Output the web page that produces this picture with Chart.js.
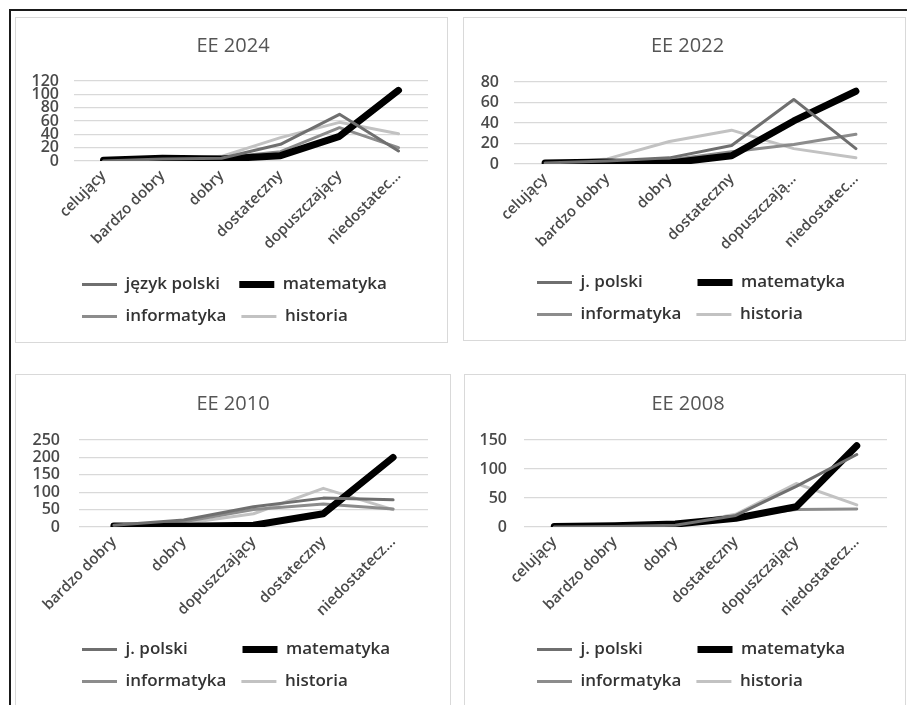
<!DOCTYPE html>
<html lang="pl">
<head>
<meta charset="utf-8">
<title>EE – rozkład ocen</title>
<script src="https://cdn.jsdelivr.net/npm/chart.js@4.4.1/dist/chart.umd.min.js"></script>
<style>
    body { margin: 0; width: 907px; height: 705px; background: #fff; position: relative; overflow: hidden; }
    .frame-top { position: absolute; left: 9px; top: 9px; width: 898px; height: 2px; background: #1a1a1a; }
    .frame-left { position: absolute; left: 9px; top: 9px; width: 2px; height: 696px; background: #1a1a1a; }
    .panel { position: absolute; border: 1px solid #d9d9d9; background: #fff; }
    .panel canvas { display: block; position: absolute; left: 0; top: 0; }
</style>
</head>
<body>
<div class="frame-top"></div>
<div class="frame-left"></div>
<div class="panel" id="p2024" style="left:15px;top:17px;width:431px;height:324px"><canvas id="c2024"></canvas></div>
<div class="panel" id="p2022" style="left:463px;top:17px;width:441px;height:322px"><canvas id="c2022"></canvas></div>
<div class="panel" id="p2010" style="left:15px;top:374px;width:434px;height:340px"><canvas id="c2010"></canvas></div>
<div class="panel" id="p2008" style="left:464px;top:374px;width:440px;height:340px"><canvas id="c2008"></canvas></div>

<script>
// Kategorie ocen
const categories2024 = ['celujący', 'bardzo dobry', 'dobry', 'dostateczny', 'dopuszczający', 'niedostatec...'];
const categories2022 = ['celujący', 'bardzo dobry', 'dobry', 'dostateczny', 'dopuszczają...', 'niedostatec...'];
const categories2010 = ['bardzo dobry', 'dobry', 'dopuszczający', 'dostateczny', 'niedostatecz...'];
const categories2008 = ['celujący', 'bardzo dobry', 'dobry', 'dostateczny', 'dopuszczający', 'niedostatecz...'];

// EE 2024
const jp2024   = [0, 3, 4, 25, 70, 15];
const mat2024  = [1, 4, 3, 8, 37, 106];
const inf2024  = [0, 3, 5, 14, 50, 20];
const hist2024 = [0, 2, 7, 35, 58, 41];

// EE 2022
const jp2022   = [1, 3, 6, 18, 63, 15];
const mat2022  = [1, 2, 1, 8, 42, 71];
const inf2022  = [1, 3, 4, 12, 19, 29];
const hist2022 = [0, 5, 22, 33, 15, 6];

// EE 2010
const jp2010   = [5, 20, 58, 83, 78];
const mat2010  = [3, 2, 5, 38, 200];
const inf2010  = [4, 15, 50, 66, 52];
const hist2010 = [2, 10, 38, 111, 50];

// EE 2008
const jp2008   = [0, 1, 3, 20, 70, 125];
const mat2008  = [1, 2, 5, 15, 35, 140];
const inf2008  = [0, 1, 4, 18, 30, 31];
const hist2008 = [0, 1, 2, 22, 75, 38];

// Podziałki osi Y
const yTicks2024 = [0, 20, 40, 60, 80, 100, 120];
const yTicks2022 = [0, 20, 40, 60, 80];
const yTicks2010 = [0, 50, 100, 150, 200, 250];
const yTicks2008 = [0, 50, 100, 150];

Chart.defaults.font.family = "'Open Sans', 'Noto Sans', sans-serif";

const GRAY_DARK = '#6f6f6f';
const GRAY_MID = '#8c8c8c';
const GRAY_LIGHT = '#c2c2c2';
const LEGEND_FONT = "600 17px 'Open Sans', 'Noto Sans', sans-serif";

// Przesuwa tytuł i legendę w poziomie (jak w Excelu, względem panelu a nie obszaru wykresu)
const shiftBlocks = {
    id: 'shiftBlocks',
    afterLayout(chart, args, opts) {
        const t = chart.titleBlock;
        const l = chart.legend;
        if (t) { t.left += opts.title || 0; t.right += opts.title || 0; }
        if (l) { l.left += opts.legend || 0; l.right += opts.legend || 0; }
    }
};

// Legenda w dwóch równych kolumnach: dopełnia krótszy tekst pierwszej kolumny spacjami
function columnLabels(chart) {
    const items = Chart.defaults.plugins.legend.labels.generateLabels(chart);
    const ctx = chart.ctx;
    ctx.save();
    ctx.font = LEGEND_FONT;
    const space = ctx.measureText(' ').width;
    const w0 = ctx.measureText(items[0].text).width;
    const w2 = ctx.measureText(items[2].text).width;
    const short = w0 < w2 ? items[0] : items[2];
    const n = Math.round(Math.abs(w2 - w0) / space);
    short.text = short.text + ' '.repeat(n);
    ctx.restore();
    return items;
}

function line(label, data, color, width) {
    return {
        label: label,
        data: data,
        borderColor: color,
        backgroundColor: color,
        borderWidth: width,
        borderCapStyle: 'round',
        borderJoinStyle: 'round',
        pointRadius: 0,
        pointHoverRadius: 0,
        tension: 0,
        fill: false
    };
}

/**
 * Tworzy wykres liniowy w panelu
 * box: wymiary płótna i położenie obszaru wykresu
 */
function makeChart(id, title, labels, series, yTicks, box) {
    const canvas = document.getElementById(id);
    canvas.width = box.w;
    canvas.height = box.h;
    canvas.style.width = box.w + 'px';
    canvas.style.height = box.h + 'px';

    const step = yTicks[1] - yTicks[0];

    return new Chart(canvas.getContext('2d'), {
        type: 'line',
        data: {
            labels: labels,
            datasets: [
                line(series[0].label, series[0].data, GRAY_DARK, 3),
                line('matematyka', series[1], '#000000', 7),
                line('informatyka', series[2], GRAY_MID, 3),
                line('historia', series[3], GRAY_LIGHT, 3)
            ]
        },
        plugins: [shiftBlocks],
        options: {
            responsive: false,
            animation: false,
            layout: {
                padding: { left: 0, top: 0, right: box.padRight, bottom: box.padBottom }
            },
            plugins: {
                shiftBlocks: { title: box.dxTitle, legend: box.dxLegend },
                title: {
                    display: true,
                    text: title,
                    color: '#555555',
                    font: { size: 20, weight: 'normal' },
                    padding: { top: box.titleTop, bottom: box.plotTop - box.titleTop - 24 }
                },
                legend: {
                    position: 'bottom',
                    align: 'start',
                    labels: {
                        usePointStyle: true,
                        pointStyle: 'line',
                        pointStyleWidth: 35,
                        padding: 15,
                        color: '#333333',
                        font: { size: 17, weight: '600' },
                        generateLabels: columnLabels
                    }
                },
                tooltip: { enabled: false }
            },
            scales: {
                x: {
                    offset: true,
                    grid: { display: false, drawTicks: false },
                    border: { display: false },
                    ticks: {
                        autoSkip: false,
                        maxRotation: 45,
                        minRotation: 45,
                        padding: 6,
                        color: '#4a4a4a',
                        font: { size: 15, weight: '600' }
                    },
                    afterFit: function (scale) { scale.height = box.xHeight; }
                },
                y: {
                    min: yTicks[0],
                    max: yTicks[yTicks.length - 1],
                    grid: { color: '#d9d9d9', lineWidth: 1.3, drawTicks: false },
                    border: { display: false },
                    ticks: {
                        autoSkip: false,
                        stepSize: step,
                        padding: box.yPad,
                        color: '#4a4a4a',
                        font: { size: 16, weight: '600', lineHeight: 1 }
                    },
                    afterFit: function (scale) { scale.width = box.plotLeft; }
                }
            }
        }
    });
}

makeChart('c2024', 'EE 2024', categories2024,
    [{ label: 'język polski', data: jp2024 }, mat2024, inf2024, hist2024], yTicks2024,
    { w: 431, h: 324, plotLeft: 58, yPad: 15, padRight: 19, padBottom: 7, titleTop: 16, plotTop: 63, xHeight: 100, dxTitle: 11, dxLegend: 51 });

makeChart('c2022', 'EE 2022', categories2022,
    [{ label: 'j. polski', data: jp2022 }, mat2022, inf2022, hist2022], yTicks2022,
    { w: 441, h: 322, plotLeft: 50, yPad: 15, padRight: 18, padBottom: 7, titleTop: 16, plotTop: 64, xHeight: 95, dxTitle: 12, dxLegend: 58 });

makeChart('c2010', 'EE 2010', categories2010,
    [{ label: 'j. polski', data: jp2010 }, mat2010, inf2010, hist2010], yTicks2010,
    { w: 434, h: 330, plotLeft: 63, yPad: 19, padRight: 22, padBottom: 5, titleTop: 17, plotTop: 65, xHeight: 99, dxTitle: 11, dxLegend: 51 });

makeChart('c2008', 'EE 2008', categories2008,
    [{ label: 'j. polski', data: jp2008 }, mat2008, inf2008, hist2008], yTicks2008,
    { w: 440, h: 330, plotLeft: 59, yPad: 17, padRight: 18, padBottom: 5, titleTop: 17, plotTop: 65, xHeight: 99, dxTitle: 12, dxLegend: 57 });
</script>
</body>
</html>
